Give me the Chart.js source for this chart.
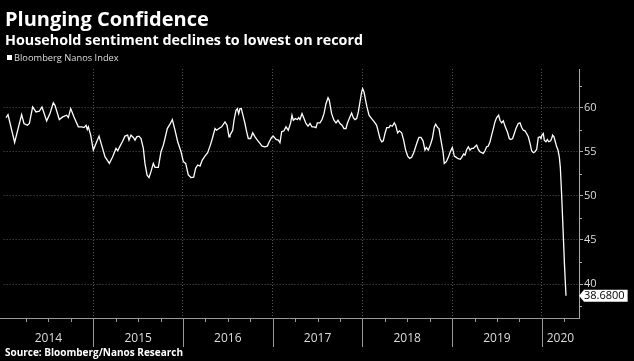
<!DOCTYPE html>
<html>
<head>
<meta charset="utf-8">
<script src="https://cdn.jsdelivr.net/npm/chart.js@4.4.0/dist/chart.umd.min.js"></script>
<style>
  html, body { margin: 0; padding: 0; background: #000; }
  #wrap { width: 634px; height: 361px; position: relative; }
</style>
</head>
<body>
<div id="wrap"><canvas id="myChart"></canvas></div>
<script>
// weekly index, x in decimal years
const dates = [
  2014.027, 2014.049, 2014.123, 2014.201, 2014.227, 2014.265, 2014.287, 2014.324, 2014.361, 2014.398,
  2014.428, 2014.48, 2014.517, 2014.554, 2014.573, 2014.621, 2014.659, 2014.703, 2014.722, 2014.748,
  2014.785, 2014.833, 2014.870, 2014.896, 2014.919, 2014.933, 2014.945, 2014.971, 2015.0, 2015.038,
  2015.064, 2015.093, 2015.130, 2015.179, 2015.216, 2015.253, 2015.272, 2015.298, 2015.324, 2015.353,
  2015.383, 2015.398, 2015.420, 2015.446, 2015.465, 2015.484, 2015.509, 2015.532, 2015.558, 2015.576,
  2015.599, 2015.621, 2015.643, 2015.669, 2015.688, 2015.725, 2015.755, 2015.781, 2015.799, 2015.825,
  2015.855, 2015.881, 2015.911, 2015.941, 2015.978, 2016.004, 2016.030, 2016.059, 2016.089, 2016.119,
  2016.141, 2016.164, 2016.19, 2016.215, 2016.245, 2016.275, 2016.305, 2016.327, 2016.357, 2016.375,
  2016.401, 2016.431, 2016.468, 2016.491, 2016.513, 2016.524, 2016.554, 2016.569, 2016.591, 2016.606,
  2016.621, 2016.635, 2016.650, 2016.673, 2016.691, 2016.710, 2016.728, 2016.754, 2016.777, 2016.803,
  2016.829, 2016.858, 2016.881, 2016.914, 2016.940, 2016.962, 2016.988, 2017.007, 2017.037, 2017.063,
  2017.081, 2017.100, 2017.126, 2017.148, 2017.174, 2017.200, 2017.215, 2017.230, 2017.252, 2017.275,
  2017.289, 2017.304, 2017.327, 2017.349, 2017.371, 2017.394, 2017.416, 2017.438, 2017.460, 2017.483,
  2017.498, 2017.527, 2017.550, 2017.572, 2017.594, 2017.617, 2017.631, 2017.657, 2017.683, 2017.706,
  2017.728, 2017.750, 2017.773, 2017.795, 2017.817, 2017.832, 2017.854, 2017.880, 2017.899, 2017.917,
  2017.936, 2017.955, 2017.973, 2017.992, 2018.003, 2018.018, 2018.036, 2018.051, 2018.074, 2018.103,
  2018.133, 2018.159, 2018.178, 2018.196, 2018.215, 2018.233, 2018.252, 2018.271, 2018.297, 2018.311,
  2018.334, 2018.356, 2018.371, 2018.393, 2018.412, 2018.438, 2018.460, 2018.482, 2018.505, 2018.527,
  2018.549, 2018.572, 2018.594, 2018.616, 2018.631, 2018.653, 2018.676, 2018.698, 2018.713, 2018.735,
  2018.757, 2018.780, 2018.802, 2018.817, 2018.839, 2018.854, 2018.876, 2018.899, 2018.913, 2018.936,
  2018.958, 2018.980, 2019.003, 2019.025, 2019.047, 2019.069, 2019.092, 2019.107, 2019.129, 2019.144,
  2019.162, 2019.181, 2019.200, 2019.218, 2019.237, 2019.255, 2019.274, 2019.292, 2019.311, 2019.330,
  2019.348, 2019.367, 2019.385, 2019.404, 2019.423, 2019.441, 2019.460, 2019.478, 2019.497, 2019.519,
  2019.534, 2019.553, 2019.571, 2019.593, 2019.616, 2019.638, 2019.653, 2019.675, 2019.694, 2019.712,
  2019.738, 2019.757, 2019.776, 2019.794, 2019.813, 2019.831, 2019.850, 2019.869, 2019.887, 2019.906,
  2019.924, 2019.943, 2019.961, 2019.980, 2019.991, 2020.002, 2020.017, 2020.028, 2020.047, 2020.062,
  2020.077, 2020.099, 2020.110, 2020.121, 2020.136, 2020.151, 2020.166, 2020.181, 2020.196, 2020.207,
  2020.222, 2020.238, 2020.254, 2020.270
];
const values = [
  58.87, 59.21, 56.05, 59.21, 58.2, 58.0, 58.2, 60.08, 59.51, 59.59,
  60.08, 58.5, 59.32, 60.56, 60.26, 58.65, 58.95, 59.14, 58.87, 59.89,
  58.95, 57.82, 57.82, 57.74, 58.0, 57.52, 57.82, 56.88, 55.19, 56.13,
  56.77, 55.75, 54.44, 53.68, 54.44, 55.38, 55.11, 55.64, 56.13, 56.77,
  56.88, 56.32, 56.88, 56.62, 56.32, 56.69, 56.77, 56.5, 55.38, 53.68,
  52.37, 52.07, 52.74, 53.68, 53.23, 53.23, 55.0, 55.75, 56.5, 57.63,
  58.12, 58.65, 57.44, 56.13, 55.0, 53.87, 53.68, 52.37, 52.07, 52.11,
  53.12, 53.5, 53.38, 54.06, 54.51, 54.89, 55.75, 56.5, 57.63, 57.44,
  57.63, 57.82, 58.38, 58.0, 56.69, 56.88, 57.44, 58.57, 59.7, 59.89,
  59.32, 59.89, 59.89, 58.95, 58.2, 57.26, 56.5, 56.5, 57.14, 56.69,
  56.32, 55.94, 55.64, 55.56, 55.64, 56.13, 56.62, 56.77, 56.39, 56.32,
  56.02, 57.26, 57.37, 57.82, 57.44, 58.27, 59.14, 58.57, 58.76, 58.65,
  58.87, 58.65, 59.32, 58.76, 58.2, 57.89, 58.2, 57.82, 57.82, 57.74,
  58.27, 58.27, 58.65, 59.32, 60.45, 61.13, 60.83, 59.32, 58.57, 58.27,
  58.57, 58.2, 58.0, 57.63, 57.63, 58.2, 58.76, 59.4, 58.87, 58.65,
  58.76, 59.51, 60.64, 61.77, 62.14, 61.77, 60.83, 60.08, 59.14, 58.76,
  58.38, 58.0, 57.26, 56.5, 56.13, 56.24, 57.07, 57.74, 57.74, 58.0,
  57.89, 58.27, 58.0, 57.14, 57.37, 57.14, 56.32, 55.19, 54.51, 54.25,
  54.36, 54.89, 55.56, 56.24, 56.62, 56.62, 56.24, 55.19, 55.49, 55.19,
  55.75, 56.5, 57.82, 58.12, 57.74, 57.63, 56.32, 55.0, 53.68, 53.87,
  54.36, 55.0, 55.49, 54.51, 54.36, 54.21, 54.14, 54.36, 54.74, 54.62,
  55.19, 55.56, 55.19, 55.38, 55.38, 55.56, 55.75, 55.26, 55.0, 54.89,
  54.81, 55.11, 55.56, 55.64, 56.13, 56.88, 57.63, 58.38, 58.87, 59.14,
  58.57, 58.27, 58.5, 57.82, 57.26, 56.5, 56.39, 56.5, 57.07, 57.63,
  58.2, 58.27, 57.74, 57.44, 57.37, 57.07, 56.69, 55.94, 55.11, 54.89,
  55.0, 55.26, 56.62, 56.69, 56.5, 56.88, 57.07, 56.32, 56.13, 56.39,
  56.13, 56.24, 56.5, 56.88, 56.69, 56.13, 55.56, 55.19, 54.36, 53.2,
  50.0, 46.0, 42.0, 38.68
];
const yearLabels = ['2014', '2015', '2016', '2017', '2018', '2019', '2020'];
const yTicks = [40, 45, 50, 55, 60];
const lastLabel = '38.6800';

const decor = {
  id: 'decor',
  beforeDraw(chart) {
    const ctx = chart.ctx;
    ctx.save();
    ctx.fillStyle = '#000';
    ctx.fillRect(0, 0, chart.width, chart.height);
    ctx.restore();
  },
  afterDraw(chart) {
    const ctx = chart.ctx;
    const xs = chart.scales.x, ys = chart.scales.y, area = chart.chartArea;
    ctx.save();
    ctx.textAlign = 'left';
    ctx.textBaseline = 'alphabetic';
    ctx.fillStyle = '#fff';
    ctx.font = 'bold 20px "Open Sans"';
    ctx.fillText('Plunging Confidence', 5, 26);
    ctx.font = 'bold 14.3px "Open Sans"';
    ctx.fillText('Household sentiment declines to lowest on record', 5, 45);

    // legend
    ctx.fillRect(7, 55, 5, 5);
    ctx.fillStyle = '#ddd';
    ctx.font = '9.3px "Open Sans"';
    ctx.fillText('Bloomberg Nanos Index', 14, 61);

    // bottom axis line + quarter ticks + year separators
    ctx.strokeStyle = '#999';
    ctx.lineWidth = 1;
    ctx.beginPath();
    ctx.moveTo(0, area.bottom + 0.5);
    ctx.lineTo(area.right, area.bottom + 0.5);
    ctx.stroke();
    for (let i = 0; i <= yearLabels.length; i++) {
      const yr = 2014 + i;
      const px = Math.round(xs.getPixelForValue(yr)) + 0.5;
      if (yr > 2014 && yr <= 2020) {
        ctx.beginPath();
        ctx.moveTo(px, area.bottom);
        ctx.lineTo(px, 347);
        ctx.stroke();
      }
      for (let q = 1; q < 4; q++) {
        const qx = Math.round(xs.getPixelForValue(yr + q / 4)) + 0.5;
        if (qx < area.right) {
          ctx.beginPath();
          ctx.moveTo(qx, area.bottom);
          ctx.lineTo(qx, area.bottom + 4);
          ctx.stroke();
        }
      }
    }
    ctx.fillStyle = '#ddd';
    ctx.font = '12px "Open Sans"';
    ctx.textAlign = 'center';
    ctx.textBaseline = 'middle';
    yearLabels.forEach((lab, i) => {
      const a = xs.getPixelForValue(2014 + i);
      const b = Math.min(xs.getPixelForValue(2015 + i), area.right);
      ctx.fillText(lab, (a + b) / 2, 339);
    });

    // minor ticks on right axis
    ctx.strokeStyle = '#aaa';
    [37.5, 42.5, 47.5, 52.5, 57.5, 62.5].forEach(v => {
      const py = Math.round(ys.getPixelForValue(v)) + 0.5;
      ctx.beginPath();
      ctx.moveTo(area.right, py);
      ctx.lineTo(area.right + 3, py);
      ctx.stroke();
    });

    // last value badge
    const ly = ys.getPixelForValue(values[values.length - 1]);
    const lx = area.right;
    ctx.font = '11px "Open Sans"';
    const tw = ctx.measureText(lastLabel).width;
    ctx.fillStyle = '#fff';
    ctx.beginPath();
    ctx.moveTo(lx, ly);
    ctx.lineTo(lx + 5, ly - 6);
    ctx.lineTo(lx + 8 + tw, ly - 6);
    ctx.lineTo(lx + 8 + tw, ly + 6);
    ctx.lineTo(lx + 5, ly + 6);
    ctx.closePath();
    ctx.fill();
    ctx.fillStyle = '#000';
    ctx.textAlign = 'left';
    ctx.fillText(lastLabel, lx + 5, ly + 0.5);

    // source
    ctx.fillStyle = '#fff';
    ctx.font = 'bold 10px "Open Sans"';
    ctx.textBaseline = 'alphabetic';
    ctx.fillText('Source: Bloomberg/Nanos Research', 5, 356);
    ctx.restore();
  }
};

window.onload = function() {
  let ctx = document.getElementById('myChart').getContext('2d');
  let points = dates.map((d, i) => ({ x: d, y: values[i] }));

  let myChart = new Chart(ctx, {
    type: 'line',
    data: {
      datasets: [{
        label: 'Bloomberg Nanos Index',
        data: points,
        borderColor: '#fff',
        borderWidth: 1.3,
        pointRadius: 0,
        tension: 0
      }]
    },
    options: {
      responsive: true,
      maintainAspectRatio: false,
      animation: false,
      layout: { padding: { left: 3.6, top: 69, right: 0, bottom: 0 } },
      plugins: {
        legend: { display: false },
        tooltip: { enabled: false }
      },
      scales: {
        x: {
          type: 'linear',
          min: 2014,
          max: 2020.415,
          afterFit: function(scale) { scale.height = 43; },
          afterBuildTicks: function(scale) {
            scale.ticks = [2015, 2016, 2017, 2018, 2019, 2020].map(v => ({ value: v }));
          },
          ticks: { display: false },
          grid: { color: '#555', drawTicks: false },
          border: { display: true, color: 'rgba(0,0,0,0)', dash: [1, 2] }
        },
        y: {
          position: 'right',
          min: 36.15,
          max: 64.38,
          afterFit: function(scale) { scale.width = 55; },
          afterBuildTicks: function(scale) {
            scale.ticks = yTicks.map(v => ({ value: v }));
          },
          ticks: {
            color: '#ddd',
            font: { family: 'Open Sans', size: 11 },
            padding: 1
          },
          grid: { color: '#555', tickColor: '#aaa', tickLength: 4, tickBorderDash: [] },
          border: { display: true, color: '#aaa', dash: [1, 2] }
        }
      }
    },
    plugins: [decor]
  });
};
</script>
</body>
</html>
